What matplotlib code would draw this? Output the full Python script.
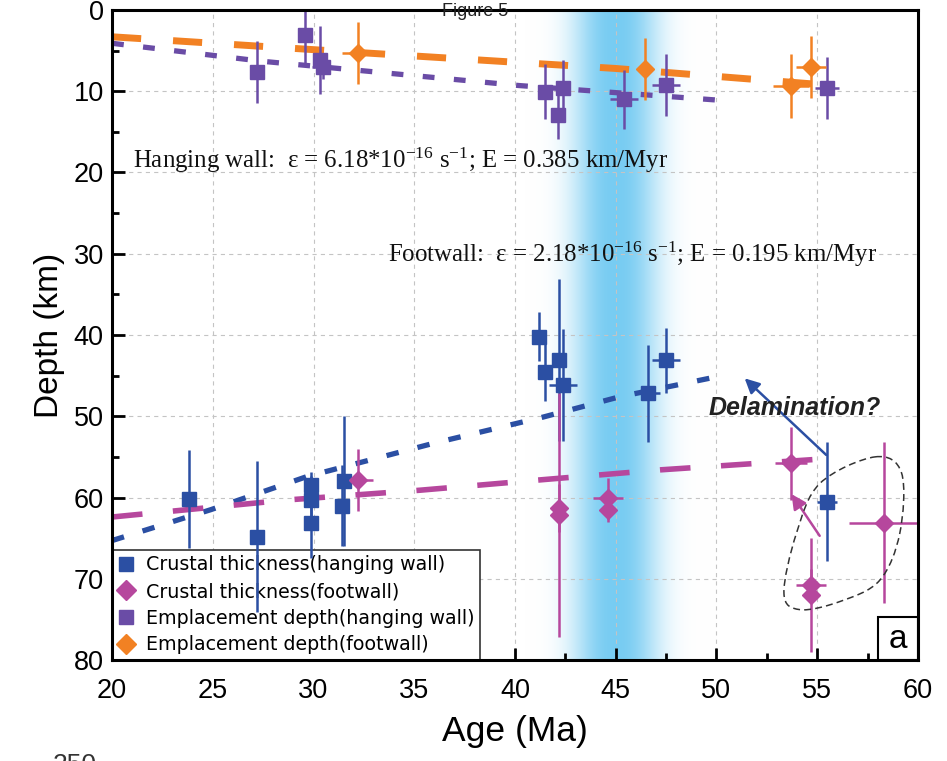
import numpy as np
import matplotlib
matplotlib.use("Agg")
import matplotlib.pyplot as plt
from matplotlib.lines import Line2D
from matplotlib.path import Path
from matplotlib.patches import PathPatch, Rectangle

plt.rcParams['font.family'] = ['Liberation Sans', 'DejaVu Sans']
plt.rcParams['mathtext.fontset'] = 'custom'
plt.rcParams['mathtext.rm'] = 'Liberation Serif'
plt.rcParams['mathtext.it'] = 'Liberation Serif:italic'
plt.rcParams['lines.scale_dashes'] = False

# crustal thickness, hanging wall
cthw_age = [23.8, 27.2, 29.9, 29.9, 29.9, 31.4, 31.5, 41.2, 41.5, 42.2, 42.4, 46.6, 47.5, 55.5]
cthw_dep = [60.2, 64.8, 58.4, 60.3, 63.1, 61.0, 58.0, 40.2, 44.6, 43.1, 46.2, 47.2, 43.1, 60.5]
cthw_yerr = [6.0, 9.3, 1.5, 3.0, 4.4, 5.0, 8.0, 3.0, 3.5, 10.0, 6.9, 6.0, 4.0, 7.3]
cthw_xerr = [0, 0, 0, 0, 0, 0, 0, 0, 0, 0, 0.7, 0.6, 0.7, 0.5]

# crustal thickness, footwall
ctfw_age = [32.2, 42.2, 42.2, 44.6, 44.6, 53.7, 54.7, 54.7, 58.3]
ctfw_dep = [57.8, 61.3, 62.2, 60.1, 61.5, 55.8, 70.8, 72.0, 63.1]
ctfw_yerr = [3.8, 3.0, 15.0, 2.5, 1.5, 4.5, 2.0, 7.0, 9.9]
ctfw_xerr = [0.75, 0, 0, 0.75, 0, 0.8, 0.75, 0, 1.7]

# emplacement depth, hanging wall
edhw_age = [27.2, 29.6, 30.3, 30.45, 41.5, 42.4, 42.15, 45.4, 47.5, 55.5]
edhw_dep = [7.6, 3.1, 6.15, 7.0, 10.05, 9.6, 12.9, 11.0, 9.2, 9.6]
edhw_yerr = [3.8, 3.7, 4.2, 1.5, 3.4, 3.5, 3.0, 3.6, 3.8, 3.8]
edhw_xerr = [0, 0, 0, 0.5, 0, 0, 0, 0.7, 0.7, 0.6]

# emplacement depth, footwall
edfw_age = [32.2, 46.45, 53.7, 54.7]
edfw_dep = [5.3, 7.3, 9.35, 7.0]
edfw_yerr = [3.8, 3.8, 3.9, 3.8]
edfw_xerr = [0.8, 0, 0.9, 0.75]

# fitted trends
fit_edfw_x = [20, 32, 45, 56.3]
fit_edfw_y = [3.3, 5.2, 7.2, 9.4]
fit_edhw_x = [20, 27.4, 40.2, 50.1]
fit_edhw_y = [4.1, 6.3, 9.3, 11.1]
fit_cthw_x = [20, 24.9, 29.7, 36.0, 41.4, 45.2, 49.9]
fit_cthw_y = [65.3, 61.5, 57.4, 53.3, 50.1, 47.6, 45.2]
fit_ctfw_x = [20, 28.7, 35.3, 41.4, 47.2, 55.0]
fit_ctfw_y = [62.4, 60.3, 59.1, 57.8, 56.6, 55.3]

# outline around the suspect samples
blob_x = [57.87, 59.19, 59.1, 58.1, 56.13, 54.14, 53.35, 53.97, 55.14]
blob_y = [55.0, 57.0, 64.4, 70.2, 72.8, 73.8, 71.8, 64.4, 58.25]

labels = ["Crustal thickness(hanging wall)", "Crustal thickness(footwall)",
          "Emplacement depth(hanging wall)", "Emplacement depth(footwall)"]

c_blue = '#2b4fa3'
c_mag = '#b6479d'
c_pur = '#6a4ca6'
c_org = '#f28123'

fig = plt.figure(figsize=(9.47, 7.61), dpi=100)
ax = fig.add_axes([0.1183, 0.1327, 0.851, 0.8542])

# blue gradient band
gx = np.linspace(40.5, 50.0, 400)
a = np.exp(-(np.abs(gx - 45.0) / 2.1) ** 2.5)
band_rgb = np.array([0.47, 0.80, 0.95])
img = (1 - a[:, None]) * np.ones(3) + a[:, None] * band_rgb
ax.imshow(img[None, :, :], extent=[40.5, 50.0, 80, 0], aspect='auto', zorder=0,
          interpolation='bilinear')

ax.set_xlim(20, 60)
ax.set_ylim(80, 0)
ax.grid(True, color='#c4c4c4', linestyle=(0, (3, 3)), linewidth=0.8)

# trend lines
ax.plot(fit_edfw_x, fit_edfw_y, color=c_org, lw=5.0, dashes=(21, 23), zorder=2)
ax.plot(fit_edhw_x, fit_edhw_y, color=c_pur, lw=3.8, dashes=(8.5, 14), zorder=2)
ax.plot(fit_cthw_x, fit_cthw_y, color=c_blue, lw=3.8, dashes=(9, 14), zorder=2)
ax.plot(fit_ctfw_x, fit_ctfw_y, color=c_mag, lw=4.0, dashes=(22, 22), zorder=2)

ekw = dict(linestyle='none', elinewidth=1.8, capsize=0, zorder=3)
ax.errorbar(cthw_age, cthw_dep, yerr=cthw_yerr, xerr=cthw_xerr, marker='s', ms=10,
            color=c_blue, **ekw)
ax.errorbar(ctfw_age, ctfw_dep, yerr=ctfw_yerr, xerr=ctfw_xerr, marker='D', ms=9,
            color=c_mag, **ekw)
ax.errorbar(edhw_age, edhw_dep, yerr=edhw_yerr, xerr=edhw_xerr, marker='s', ms=10.5,
            color=c_pur, **ekw)
ax.errorbar(edfw_age, edfw_dep, yerr=edfw_yerr, xerr=edfw_xerr, marker='D', ms=9,
            color=c_org, **ekw)

# arrows
ax.annotate('', xy=(51.3, 45.1), xytext=(55.55, 55.0),
            arrowprops=dict(arrowstyle='-|>', color=c_blue, lw=1.8, mutation_scale=22))
ax.annotate('', xy=(53.65, 59.3), xytext=(55.2, 65.0),
            arrowprops=dict(arrowstyle='-|>', color=c_mag, lw=1.8, mutation_scale=22))

# dashed outline (closed Catmull-Rom curve)
pts = np.column_stack([blob_x, blob_y])
n = len(pts)
verts = [pts[0]]
codes = [Path.MOVETO]
for i in range(n):
    p0, p1, p2, p3 = pts[i - 1], pts[i], pts[(i + 1) % n], pts[(i + 2) % n]
    verts += [p1 + (p2 - p0) / 6, p2 - (p3 - p1) / 6, p2]
    codes += [Path.CURVE4] * 3
ax.add_patch(PathPatch(Path(verts, codes), fill=False, edgecolor='#333333', lw=1.1,
                       linestyle=(0, (5, 3)), zorder=4))

# annotations
ax.text(21.05, 18.5, "Hanging wall:  ε = 6.18*10$^{-16}$ s$^{-1}$; E = 0.385 km/Myr",
        family='Liberation Serif', fontsize=17.9, va='center', ha='left', color='#111111')
ax.text(33.7, 30.1, "Footwall:  ε = 2.18*10$^{-16}$ s$^{-1}$; E = 0.195 km/Myr",
        family='Liberation Serif', fontsize=17.9, va='center', ha='left', color='#111111')
ax.text(53.9, 49.0, "Delamination?", fontsize=18, fontweight='bold', style='italic',
        ha='center', va='center', color='#222222')

# panel label
ax.add_patch(Rectangle((0.95, 0.0), 0.05, 0.066, transform=ax.transAxes, fill=True,
                       facecolor='white', edgecolor='black', lw=1.5, zorder=5))
ax.text(0.975, 0.032, "a", transform=ax.transAxes, fontsize=24, ha='center',
        va='center', zorder=6)

# axes styling
for s in ax.spines.values():
    s.set_linewidth(2.2)
    s.set_zorder(7)
ax.set_xticks(np.arange(20, 61, 5))
ax.set_xticks(np.arange(20, 61, 2.5), minor=True)
ax.set_yticks(np.arange(0, 81, 10))
ax.set_yticks(np.arange(0, 81, 5), minor=True)
ax.tick_params(which='both', direction='in', top=False, right=False, width=2)
ax.tick_params(which='major', length=9, labelsize=19.5)
ax.tick_params(which='minor', length=5)
ax.tick_params(axis='x', pad=13)
ax.tick_params(axis='y', pad=6)
ax.set_xlabel("Age (Ma)", fontsize=25.5, labelpad=8)
ax.set_ylabel("Depth (km)", fontsize=24, labelpad=6)

handles = [Line2D([], [], ls='none', marker='s', ms=10, color=c_blue),
           Line2D([], [], ls='none', marker='D', ms=10, color=c_mag),
           Line2D([], [], ls='none', marker='s', ms=10, color=c_pur),
           Line2D([], [], ls='none', marker='D', ms=10, color=c_org)]
leg = ax.legend(handles, labels, loc='lower left', frameon=True,
                prop={'family': 'DejaVu Sans', 'size': 13.7},
                fancybox=False, borderaxespad=0, handlelength=0.9, handletextpad=0.6,
                labelspacing=0.4, borderpad=0.3, framealpha=1)
leg.get_frame().set_edgecolor('#333333')
leg.get_frame().set_linewidth(1.2)
leg.set_zorder(2.5)

fig.text(475 / 947, 1 - 11 / 761, "Figure 5", fontsize=13, ha='center', va='center',
         color='#222222', zorder=10)
fig.text(75 / 947, 1 - 753 / 761, "250", fontsize=19, ha='center', va='top',
         color='#333333')

fig.savefig("out.png", dpi=100)
